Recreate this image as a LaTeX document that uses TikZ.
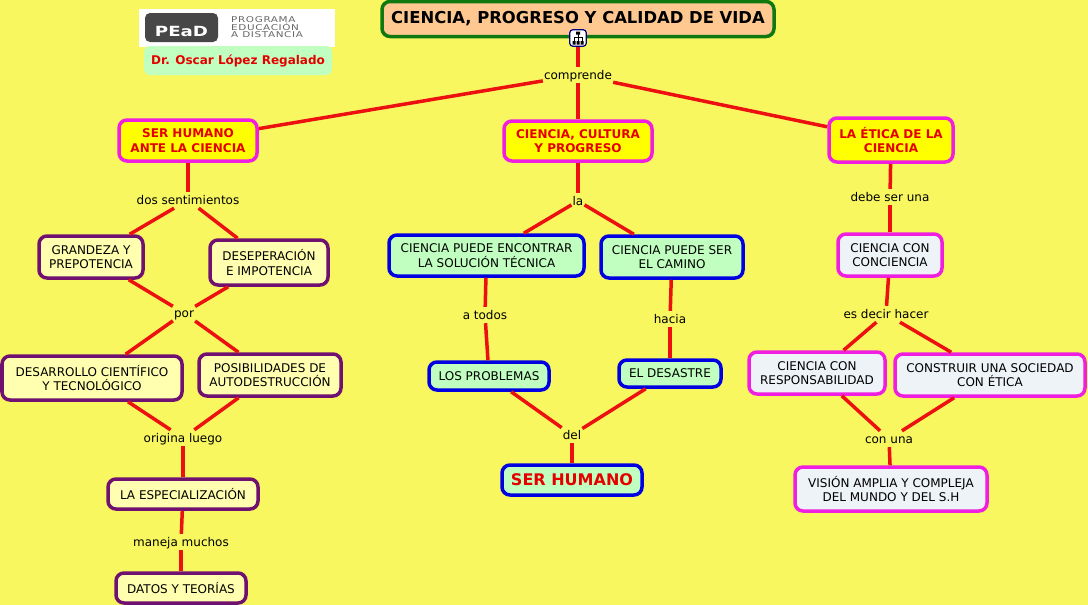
\documentclass[tikz,border=0pt]{standalone}
\usepackage{fontspec}
\setmainfont{DejaVu Sans}
\definecolor{fondo}{RGB}{248,247,96}
\definecolor{rojo}{RGB}{236,16,16}
\definecolor{morado}{RGB}{112,16,112}
\definecolor{fucsia}{RGB}{240,30,225}
\definecolor{azul}{RGB}{0,0,225}
\definecolor{verdeos}{RGB}{16,120,16}
\definecolor{durazno}{RGB}{255,200,145}
\definecolor{amarillo}{RGB}{255,255,0}
\definecolor{crema}{RGB}{255,255,175}
\definecolor{menta}{RGB}{192,255,192}
\definecolor{perla}{RGB}{238,243,247}
\tikzset{
  caja/.style={draw, line width=3.5pt, rounded corners=8pt, align=center, inner sep=0pt,
    font=\fontsize{12}{14.5}\selectfont},
  tema/.style={caja, draw=fucsia, fill=amarillo, text=red!90!black,
    font=\fontsize{12}{14.5}\selectfont\bfseries},
  crem/.style={caja, draw=morado, fill=crema},
  ment/.style={caja, draw=azul, fill=menta},
  perl/.style={caja, draw=fucsia, fill=perla},
  enlace/.style={inner xsep=1pt, inner ysep=0pt, minimum height=16pt, text height=10pt, text depth=2pt,
    font=\fontsize{12}{14}\selectfont},
  linea/.style={rojo, line width=3.5pt}
}
\begin{document}
\begin{tikzpicture}[x=1pt,y=-1pt]
\useasboundingbox[fill=fondo] (0,0) rectangle (1088,605);

\node[caja, draw=verdeos, fill=durazno, minimum width=392, minimum height=35,
  font=\fontsize{16.4}{18}\selectfont\bfseries] (titulo) at (578,19) {CIENCIA, PROGRESO Y CALIDAD DE VIDA};

\node[tema, minimum width=138, minimum height=41] (humano) at (188,140.5) {SER HUMANO\\ANTE LA CIENCIA};
\node[tema, minimum width=148, minimum height=40] (cultura) at (578,141) {CIENCIA, CULTURA\\Y PROGRESO};
\node[tema, minimum width=124, minimum height=44] (etica) at (891,140) {LA ÉTICA DE LA\\CIENCIA};

\node[crem, minimum width=104, minimum height=42] (grandeza) at (91,257) {GRANDEZA Y\\PREPOTENCIA};
\node[crem, minimum width=118, minimum height=45] (desespera) at (269,262.5) {DESEPERACIÓN\\E IMPOTENCIA};
\node[crem, minimum width=180, minimum height=44] (desarrollo) at (92,378) {DESARROLLO CIENTÍFICO\\Y TECNOLÓGICO};
\node[crem, minimum width=142, minimum height=42] (posible) at (270,375) {POSIBILIDADES DE\\AUTODESTRUCCIÓN};
\node[crem, minimum width=150, minimum height=30] (especial) at (183,494) {LA ESPECIALIZACIÓN};
\node[crem, minimum width=130, minimum height=30] (datos) at (181,588) {DATOS Y TEORÍAS};

\node[ment, minimum width=195, minimum height=41] (encontrar) at (486.5,255.5) {CIENCIA PUEDE ENCONTRAR\\LA SOLUCIÓN TÉCNICA};
\node[ment, minimum width=142, minimum height=42] (camino) at (672,257) {CIENCIA PUEDE SER\\EL CAMINO};
\node[ment, minimum width=120, minimum height=28] (problemas) at (489,376) {LOS PROBLEMAS};
\node[ment, minimum width=102, minimum height=27] (desastre) at (670,373.5) {EL DESASTRE};
\node[ment, minimum width=140, minimum height=30, text=red!90!black,
  font=\fontsize{16}{18}\selectfont\bfseries] (serhumano) at (572,480) {SER HUMANO};

\node[perl, minimum width=104, minimum height=42] (conciencia) at (890,255) {CIENCIA CON\\CONCIENCIA};
\node[perl, minimum width=136, minimum height=42] (responsable) at (817,373) {CIENCIA CON\\RESPONSABILIDAD};
\node[perl, minimum width=190, minimum height=42] (sociedad) at (990,375) {CONSTRUIR UNA SOCIEDAD\\CON ÉTICA};
\node[perl, minimum width=192, minimum height=44] (vision) at (891,489) {VISIÓN AMPLIA Y COMPLEJA\\DEL MUNDO Y DEL S.H};

\node[enlace] (comprende) at (578,75) {comprende};
\node[enlace] (dos) at (188,200) {dos sentimientos};
\node[enlace] (por) at (184,313) {por};
\node[enlace] (origina) at (183,438) {origina luego};
\node[enlace] (maneja) at (181,542) {maneja muchos};
\node[enlace] (la) at (578,201) {la};
\node[enlace] (atodos) at (485,315) {a todos};
\node[enlace] (hacia) at (670,319) {hacia};
\node[enlace] (del) at (572,435) {del};
\node[enlace] (debe) at (890,197) {debe ser una};
\node[enlace] (decir) at (886,314) {es decir hacer};
\node[enlace] (conuna) at (889,439) {con una};

\foreach \a/\b in {titulo/comprende, comprende/humano, comprende/cultura, comprende/etica,
    humano/dos, dos/grandeza, dos/desespera, grandeza/por, desespera/por, por/desarrollo, por/posible,
    desarrollo/origina, posible/origina, origina/especial, especial/maneja, maneja/datos,
    cultura/la, la/encontrar, la/camino, encontrar/atodos, atodos/problemas, camino/hacia, hacia/desastre,
    problemas/del, desastre/del, del/serhumano,
    etica/debe, debe/conciencia, conciencia/decir, decir/responsable, decir/sociedad,
    responsable/conuna, sociedad/conuna, conuna/vision}
  \draw[linea] (\a) -- (\b);

\node[draw=azul!55!black, fill=white, line width=1.2pt, rounded corners=3pt, minimum width=16.5, minimum height=16.5, inner sep=0pt] (icono) at (578,38) {};
\draw[black, line width=.8pt] (578,33) -- (578,42) (574,42) -- (574,37) -- (582,37) -- (582,42);
\fill[black] (576,31.5) rectangle (580,34.5) (572.5,41) rectangle (575.5,44.5) (576.5,41) rectangle (579.5,44.5) (580.5,41) rectangle (583.5,44.5);

\node[fill=white, minimum width=196, minimum height=38, inner sep=0pt] (logo) at (237,28) {};
\node[fill=black!72, rounded corners=5pt, minimum width=73, minimum height=29, inner sep=0pt] (pead) at (181.5,27.5) {};
\node[inner sep=0pt, text=white, font=\fontsize{14}{16}\selectfont\bfseries\addfontfeature{FakeStretch=1.3}] (peadtxt) at (181.5,31.5) {PEaD};
\node[right, inner sep=0pt, align=left, text=black!60, font=\fontsize{8}{7}\selectfont\addfontfeature{FakeStretch=1.3,LetterSpace=8}] (programa) at (231,27) {PROGRAMA\\EDUCACIÓN\\A DISTANCIA};
\node[fill=menta, rounded corners=6pt, minimum width=188, minimum height=29, inner sep=0pt, text=red!90!black,
  font=\fontsize{12}{14}\selectfont\bfseries] (oscar) at (238,60.5) {Dr. Oscar López Regalado};
\end{tikzpicture}
\end{document}
